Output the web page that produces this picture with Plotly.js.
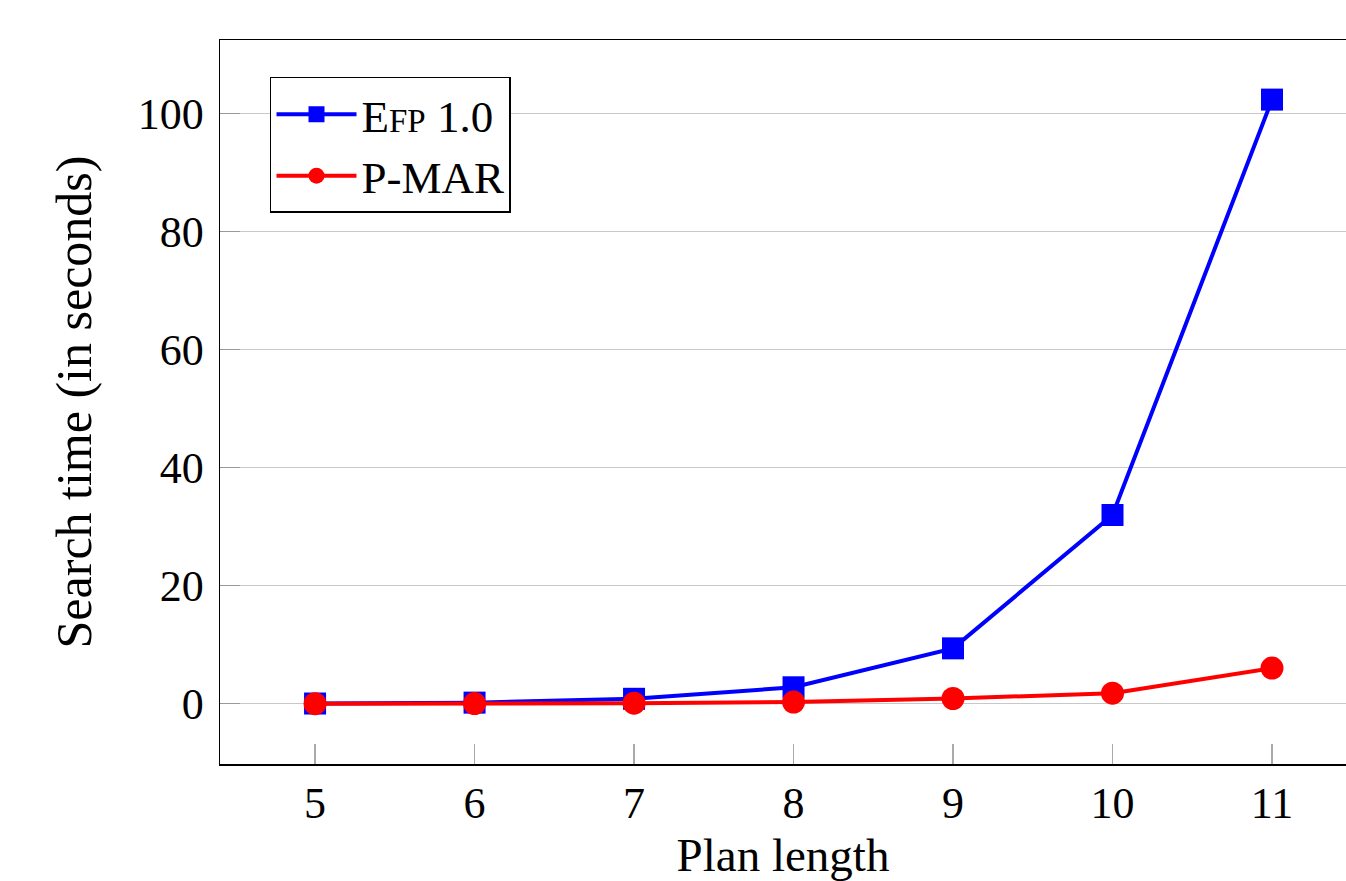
<!DOCTYPE html>
<html>
<head>
<meta charset="utf-8">
<script src="https://cdn.plot.ly/plotly-3.0.1.min.js"></script>
<style>html,body{margin:0;padding:0;background:#fff;overflow:hidden;}</style>
</head>
<body>
<div id="chart" style="width:1346px;height:881px;"></div>
<script>
const planLength = [5, 6, 7, 8, 9, 10, 11];
const efpTimes = [0.05, 0.2, 0.85, 2.8, 9.4, 32.0, 102.4];
const pmarTimes = [0.02, 0.05, 0.1, 0.3, 0.9, 1.8, 6.05];
const yTicks = [0, 20, 40, 60, 80, 100];

const FONT = "Liberation Serif, DejaVu Serif, serif";

const traces = [
  {
    x: planLength, y: efpTimes, name: "E<span style='font-size:33px'>FP</span> 1.0",
    mode: "lines+markers", type: "scatter",
    line: {color: "#0000ff", width: 4},
    marker: {symbol: "square", size: 22, color: "#0000ff"}
  },
  {
    x: planLength, y: pmarTimes, name: "P-MAR",
    mode: "lines+markers", type: "scatter",
    line: {color: "#ff0000", width: 4},
    marker: {symbol: "circle", size: 23, color: "#ff0000"}
  }
];

const layout = {
  width: 1346, height: 881,
  margin: {l: 220, r: 0, t: 40, b: 117},
  paper_bgcolor: "#ffffff", plot_bgcolor: "#ffffff",
  font: {family: FONT, size: 44, color: "#000"},
  showlegend: true,
  legend: {
    x: 0.0444, y: 0.949, xanchor: "left", yanchor: "top",
    bordercolor: "#000", borderwidth: 1.5, bgcolor: "#fff",
    font: {family: FONT, size: 45, color: "#000"},
    itemwidth: 80, tracegroupgap: 0
  },
  xaxis: {
    range: [4.404, 11.464],
    tickvals: planLength, ticktext: planLength.map(String),
    ticks: "inside", ticklen: 20, tickcolor: "#aaaaaa", tickwidth: 1.2,
    showgrid: false, zeroline: false,
    showline: true, linecolor: "#000", linewidth: 1.5, mirror: true,
    tickfont: {family: FONT, size: 44},
    title: {text: "Plan length", font: {family: FONT, size: 47}, standoff: 18}
  },
  yaxis: {
    range: [-10.2, 112.5],
    tickvals: yTicks, ticktext: yTicks.map(String),
    ticks: "inside", ticklen: 20, tickcolor: "#999999", tickwidth: 1.2,
    showgrid: true, gridcolor: "#c8c8c8", gridwidth: 1,
    zeroline: false,
    showline: true, linecolor: "#000", linewidth: 1.5, mirror: false,
    tickfont: {family: FONT, size: 44},
    ticklabelstandoff: 6,
    title: {text: "Search time (in seconds)", font: {family: FONT, size: 50}, standoff: 30}
  }
};

Plotly.newPlot("chart", traces, layout, {displayModeBar: false, staticPlot: true});
</script>
</body>
</html>
